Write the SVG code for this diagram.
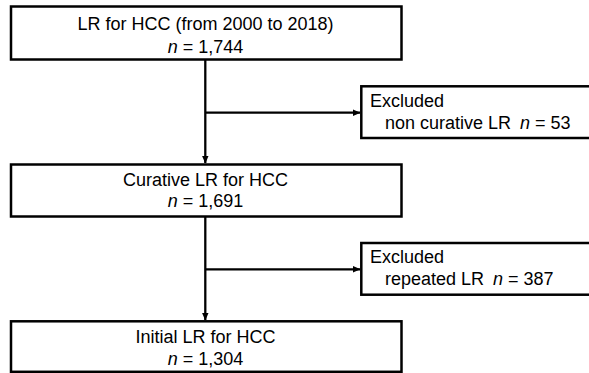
<svg xmlns="http://www.w3.org/2000/svg" width="589" height="373" viewBox="0 0 589 373">
<style>
.box{fill:#fff;stroke:#000;stroke-width:2.5}
.ln{fill:none;stroke:#000;stroke-width:2.3}
text{font-family:"Liberation Sans",Arial,sans-serif;font-size:18px;fill:#000}
.c{text-anchor:middle}
.i{font-style:italic}
</style>
<defs>
<marker id="ah" markerWidth="8" markerHeight="8" refX="7" refY="4" orient="auto" markerUnits="userSpaceOnUse">
<path d="M0,0.8 L7.5,4 L0,7.2 Z" fill="#000"/>
</marker>
</defs>
<g id="connectors">
<path class="ln" d="M205.3,60 V163" marker-end="url(#ah)"/>
<path class="ln" d="M205.3,112.7 H360" marker-end="url(#ah)"/>
<path class="ln" d="M205.3,217 V320" marker-end="url(#ah)"/>
<path class="ln" d="M205.3,269.3 H360" marker-end="url(#ah)"/>
</g>
<g id="n1">
<rect class="box" x="11" y="6.5" width="390.5" height="53"/>
<text class="c" x="205.5" y="30">LR for HCC (from 2000 to 2018)</text>
<text class="c" x="205.5" y="52.5"><tspan class="i">n</tspan> = 1,744</text>
</g>
<g id="n2">
<rect class="box" x="361.3" y="86.3" width="240" height="51.7"/>
<text x="370" y="106.7">Excluded</text>
<text x="385" y="129">non curative LR</text>
<text x="520" y="129"><tspan class="i">n</tspan> = 53</text>
</g>
<g id="n3">
<rect class="box" x="11" y="164.5" width="390.5" height="52"/>
<text class="c" x="205.5" y="186">Curative LR for HCC</text>
<text class="c" x="205.5" y="207.3"><tspan class="i">n</tspan> = 1,691</text>
</g>
<g id="n4">
<rect class="box" x="361.3" y="243" width="240" height="51.7"/>
<text x="370" y="263.3">Excluded</text>
<text x="385" y="285">repeated LR</text>
<text x="493" y="285"><tspan class="i">n</tspan> = 387</text>
</g>
<g id="n5">
<rect class="box" x="11" y="321.3" width="390.5" height="50.5"/>
<text class="c" x="205.5" y="343.3">Initial LR for HCC</text>
<text class="c" x="205.5" y="365"><tspan class="i">n</tspan> = 1,304</text>
</g>
</svg>
